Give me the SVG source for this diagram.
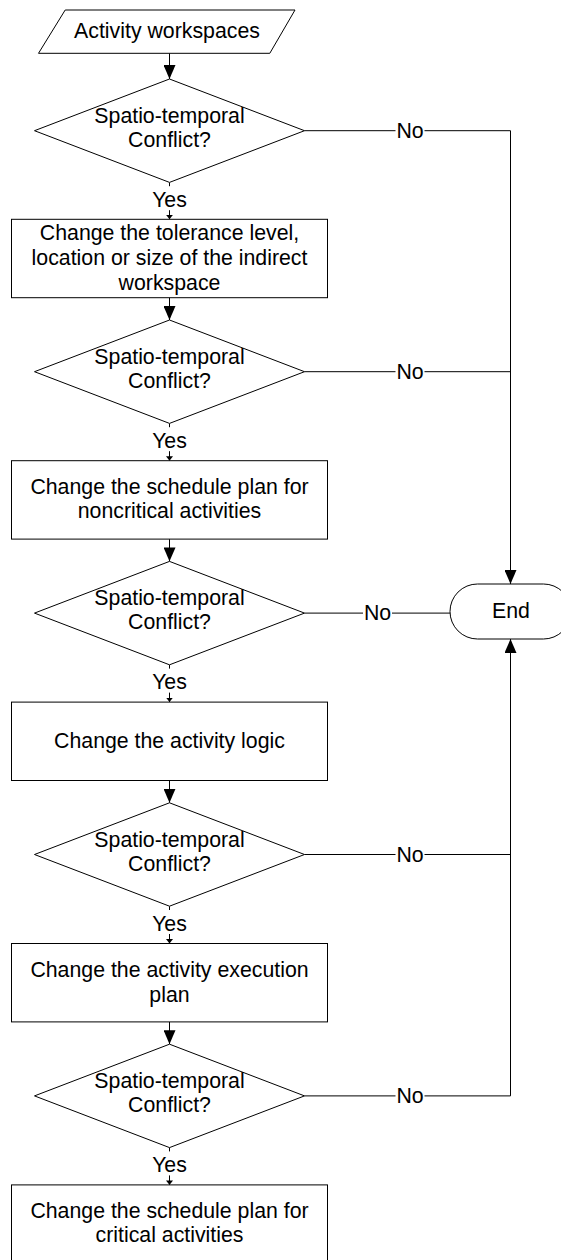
<svg xmlns="http://www.w3.org/2000/svg" width="561" height="1260" viewBox="0 0 561 1260">
<style>
.shape{fill:#fff;stroke:#000;stroke-width:1}
.conn{fill:none;stroke:#000;stroke-width:1}
text{font-family:"Liberation Sans",Arial,sans-serif;font-size:21.3px;fill:#000;text-anchor:middle}
.lblbg{fill:#fff;stroke:none}
</style>
<defs>
<marker id="big" markerUnits="userSpaceOnUse" markerWidth="14" markerHeight="12" refX="14" refY="6" orient="auto">
<path d="M0,0 L14,6 L0,12 Z" fill="#000"/>
</marker>
<marker id="small" markerUnits="userSpaceOnUse" markerWidth="5" markerHeight="7" refX="4.5" refY="3.5" orient="auto">
<path d="M0,0 L4.5,3.5 L0,7 Z" fill="#000"/>
</marker>
</defs>
<rect width="561" height="1260" fill="#fff"/>
<g id="connectors">
<line class="conn" x1="169.5" y1="53.3" x2="169.5" y2="79" marker-end="url(#big)"/>
<line class="conn" x1="169.5" y1="182.4" x2="169.5" y2="219.3" marker-end="url(#small)"/>
<line class="conn" x1="169.5" y1="297.7" x2="169.5" y2="320" marker-end="url(#big)"/>
<line class="conn" x1="169.5" y1="423.4" x2="169.5" y2="460.7" marker-end="url(#small)"/>
<line class="conn" x1="169.5" y1="539.1" x2="169.5" y2="561.4" marker-end="url(#big)"/>
<line class="conn" x1="169.5" y1="664.8" x2="169.5" y2="702.1" marker-end="url(#small)"/>
<line class="conn" x1="169.5" y1="780.5" x2="169.5" y2="802.8" marker-end="url(#big)"/>
<line class="conn" x1="169.5" y1="906.2" x2="169.5" y2="943.5" marker-end="url(#small)"/>
<line class="conn" x1="169.5" y1="1021.9" x2="169.5" y2="1044.2" marker-end="url(#big)"/>
<line class="conn" x1="169.5" y1="1147.6" x2="169.5" y2="1184.9" marker-end="url(#small)"/>
<path class="conn" d="M304.5,130.7 H510.5 V584" marker-end="url(#big)"/>
<path class="conn" d="M304.5,371.7 H510.5"/>
<path class="conn" d="M304.5,613.1 H450.5"/>
<path class="conn" d="M304.5,854.5 H510.5"/>
<path class="conn" d="M304.5,1095.9 H510.5 V639" marker-end="url(#big)"/>
<g id="labels">
<rect class="lblbg" x="151" y="186.2" width="37" height="24"/><text x="169.5" y="206.7">Yes</text>
<rect class="lblbg" x="151" y="427.2" width="37" height="24"/><text x="169.5" y="447.7">Yes</text>
<rect class="lblbg" x="151" y="668.6" width="37" height="24"/><text x="169.5" y="689.1">Yes</text>
<rect class="lblbg" x="151" y="910" width="37" height="24"/><text x="169.5" y="930.5">Yes</text>
<rect class="lblbg" x="151" y="1151.4" width="37" height="24"/><text x="169.5" y="1171.9">Yes</text>
<rect class="lblbg" x="395.5" y="124" width="29" height="14"/><text x="410" y="137.7">No</text>
<rect class="lblbg" x="395.5" y="365" width="29" height="14"/><text x="410" y="378.7">No</text>
<rect class="lblbg" x="363" y="606.4" width="29" height="14"/><text x="377.5" y="620.1">No</text>
<rect class="lblbg" x="395.5" y="847.8" width="29" height="14"/><text x="410" y="861.5">No</text>
<rect class="lblbg" x="395.5" y="1089.2" width="29" height="14"/><text x="410" y="1102.9">No</text>
</g>
</g>
<g id="start">
<polygon class="shape" points="65.2,10 295,10 269.8,53.3 38.5,53.3"/>
<text x="167" y="38">Activity workspaces</text>
</g>
<g id="decision1">
<polygon class="shape" points="169.5,79 304.5,130.7 169.5,182.4 34.5,130.7"/>
<text x="169.5" y="123">Spatio-temporal</text>
<text x="169.5" y="147">Conflict?</text>
</g>
<g id="step1">
<rect class="shape" x="11.5" y="219.3" width="316" height="78.4"/>
<text x="169.5" y="240">Change the tolerance level,</text>
<text x="169.5" y="265">location or size of the indirect</text>
<text x="169.5" y="290">workspace</text>
</g>
<g id="decision2">
<polygon class="shape" points="169.5,320 304.5,371.7 169.5,423.4 34.5,371.7"/>
<text x="169.5" y="364">Spatio-temporal</text>
<text x="169.5" y="388">Conflict?</text>
</g>
<g id="step2">
<rect class="shape" x="11.5" y="460.7" width="316" height="78.4"/>
<text x="169.5" y="493.5">Change the schedule plan for</text>
<text x="169.5" y="518">noncritical activities</text>
</g>
<g id="decision3">
<polygon class="shape" points="169.5,561.4 304.5,613.1 169.5,664.8 34.5,613.1"/>
<text x="169.5" y="605.4">Spatio-temporal</text>
<text x="169.5" y="629.4">Conflict?</text>
</g>
<g id="end">
<rect class="shape" x="450" y="584" width="121" height="55" rx="27.5" ry="27.5"/>
<text x="511" y="617.5">End</text>
</g>
<g id="step3">
<rect class="shape" x="11.5" y="702.1" width="316" height="78.4"/>
<text x="169.5" y="748.3">Change the activity logic</text>
</g>
<g id="decision4">
<polygon class="shape" points="169.5,802.8 304.5,854.5 169.5,906.2 34.5,854.5"/>
<text x="169.5" y="846.8">Spatio-temporal</text>
<text x="169.5" y="870.8">Conflict?</text>
</g>
<g id="step4">
<rect class="shape" x="11.5" y="943.5" width="316" height="78.4"/>
<text x="169.5" y="977">Change the activity execution</text>
<text x="169.5" y="1002">plan</text>
</g>
<g id="decision5">
<polygon class="shape" points="169.5,1044.2 304.5,1095.9 169.5,1147.6 34.5,1095.9"/>
<text x="169.5" y="1088.2">Spatio-temporal</text>
<text x="169.5" y="1112.2">Conflict?</text>
</g>
<g id="step5">
<rect class="shape" x="11.5" y="1184.9" width="316" height="78.4"/>
<text x="169.5" y="1218.3">Change the schedule plan for</text>
<text x="169.5" y="1241.7">critical activities</text>
</g>
</svg>
